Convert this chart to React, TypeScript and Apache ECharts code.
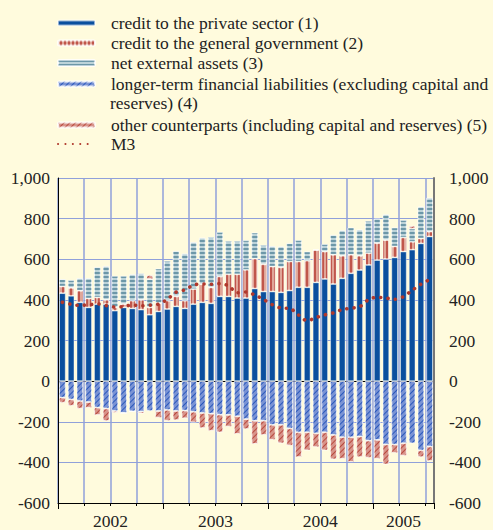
import React, { useEffect, useRef } from 'react';
import * as echarts from 'echarts';

// Monthly categories Jan 2002 – Jul 2005
const years = ['2002', '2003', '2004', '2005'];
const monthNames = ['01', '02', '03', '04', '05', '06', '07', '08', '09', '10', '11', '12'];
const categories: string[] = [];
years.forEach((y) => monthNames.forEach((m) => { if (!(y === '2005' && Number(m) > 7)) categories.push(`${y}-${m}`); }));

// index of the category carrying each year label
const yearLabelIndex: Record<number, string> = { 6: '2002', 18: '2003', 30: '2004', 39: '2005' };

const yTicks = { min: -600, max: 1000, step: 200 };

const privateSector = [433, 420, 388, 363, 379, 379, 347, 363, 358, 352, 327, 343, 355, 368, 358, 379, 388, 383, 417, 417, 409, 409, 456, 441, 441, 437, 446, 462, 462, 486, 503, 478, 506, 531, 547, 572, 596, 601, 609, 638, 647, 678, 712];
const generalGovernment = [33, 39, 57, 44, 33, 21, 16, 16, 38, 48, 36, 40, 41, 49, 38, 74, 89, 78, 98, 109, 117, 139, 147, 134, 123, 123, 143, 127, 131, 159, 135, 144, 111, 91, 70, 58, 83, 93, 54, 69, 39, 24, 24];
const netExternal = [36, 38, 62, 100, 150, 167, 155, 139, 130, 130, 139, 171, 196, 224, 232, 232, 229, 248, 219, 164, 164, 145, 128, 95, 101, 103, 90, 105, 45, 3, 36, 98, 126, 134, 129, 159, 121, 127, 93, 86, 65, 157, 167];
const longerTerm = [-81, -90, -98, -103, -130, -135, -147, -157, -149, -150, -147, -147, -142, -147, -145, -151, -157, -160, -165, -166, -173, -187, -195, -195, -215, -215, -233, -252, -252, -257, -252, -265, -276, -276, -273, -293, -289, -312, -312, -306, -306, -341, -322];
const otherCounterparts = [-25, -31, -37, -28, -37, -61, -8, 0, 0, -9, 19, -33, -53, -45, -38, -52, -74, -84, -87, -58, -87, -49, -114, -70, -74, -91, -84, -122, -89, -68, -89, -120, -106, -122, -101, -84, -93, -98, -42, -61, 13, -33, -71];
const m3 = [388, 378, 373, 376, 380, 372, 365, 367, 375, 371, 374, 379, 403, 438, 449, 473, 478, 477, 480, 469, 435, 439, 424, 402, 377, 360, 358, 326, 297, 313, 326, 336, 352, 359, 366, 401, 413, 409, 403, 416, 447, 477, 500];

const seriesNames = [
  'credit to the private sector (1)',
  'credit to the general government (2)',
  'net external assets (3)',
  'longer-term financial liabilities (excluding capital and reserves) (4)',
  'other counterparts (including capital and reserves) (5)',
  'M3',
];
const legendShown = [
  'credit to the private sector (1)',
  'credit to the general government (2)',
  'net external assets (3)',
  'longer-term financial liabilities (excluding capital and',
  'other counterparts (including capital and reserves) (5)',
  'M3',
];
const legendWrap = 'reserves) (4)';

const FONT = 'Liberation Serif';
const BG = '#fffbdd';
const GRIDC = '#90a0da';
const TXT = '#222222';
const FS = 17.5;

export default function App() {
  const ref = useRef<HTMLDivElement>(null);
  useEffect(() => {
    if (!ref.current) return;
    const chart = echarts.init(ref.current, undefined, { renderer: 'svg' });
    const border = { borderColor: 'rgba(255,255,255,0.55)', borderWidth: 0.8 };
    const legendTops = [14, 34, 54, 75, 116, 135];
    const splitColors = [GRIDC, GRIDC, GRIDC, '#000000', GRIDC, GRIDC, GRIDC, GRIDC, GRIDC];
    const fmt = (v: number) => (Math.abs(v) >= 1000 ? `${v < 0 ? '-' : ''}${Math.floor(Math.abs(v) / 1000)},${String(Math.abs(v) % 1000).padStart(3, '0')}` : String(v));

    const option: any = {
      animation: false,
      backgroundColor: BG,
      textStyle: { fontFamily: FONT },
      grid: { left: 58, right: 59, top: 178, bottom: 24 },
      legend: seriesNames.map((name, k) => ({
        data: k === 5 ? [{ name, itemStyle: { opacity: 0 } }] : [name],
        left: 57,
        top: legendTops[k],
        padding: 0,
        itemWidth: 37,
        itemHeight: k === 2 ? 6 : 5,
        selectedMode: false,
        formatter: () => `{g|}${legendShown[k]}`,
        textStyle: { fontFamily: FONT, fontSize: FS, color: TXT, rich: { g: { width: 11 } } },
      })),
      graphic: [
        { type: 'text', left: 110, top: 94, style: { text: legendWrap, fontFamily: FONT, fontSize: FS, fill: TXT } },
      ],
      xAxis: [
        {
          type: 'category',
          data: categories,
          position: 'bottom',
          boundaryGap: true,
          axisLine: { show: true, onZero: false, lineStyle: { color: '#000', width: 1 } },
          axisTick: { show: true, interval: (i: number) => i % 3 === 0, length: 3, lineStyle: { color: '#000' } },
          splitLine: { show: true, interval: (i: number) => i % 3 === 0, lineStyle: { color: GRIDC, width: 1.5 } },
          axisLabel: {
            interval: (i: number) => yearLabelIndex[i] !== undefined,
            margin: 9,
            formatter: (v: string, i: number) => (i === 39 ? `{b|${yearLabelIndex[i]}}` : `{a|${yearLabelIndex[i] ?? v.slice(0, 4)}}`),
            rich: {
              a: { fontFamily: FONT, fontSize: FS, color: TXT, padding: [0, 8.7, 0, 0] },
              b: { fontFamily: FONT, fontSize: FS, color: TXT },
            },
          },
        },
        {
          type: 'category',
          data: categories,
          position: 'bottom',
          boundaryGap: true,
          axisLine: { show: false, onZero: false },
          axisTick: { show: true, interval: (i: number) => i % 12 === 0, length: 6, lineStyle: { color: '#000' } },
          splitLine: { show: false },
          axisLabel: { show: false },
        },
      ],
      yAxis: [
        {
          type: 'value',
          position: 'left',
          min: yTicks.min,
          max: yTicks.max,
          interval: yTicks.step,
          axisLine: { show: true, lineStyle: { color: '#000', width: 1 } },
          axisTick: { show: false },
          axisLabel: { formatter: fmt, fontFamily: FONT, fontSize: FS, color: TXT, margin: 8 },
          splitLine: { show: true, lineStyle: { color: splitColors, width: 1.2 } },
        },
        {
          type: 'value',
          position: 'right',
          min: yTicks.min,
          max: yTicks.max,
          interval: yTicks.step,
          axisLine: { show: true, lineStyle: { color: '#777', width: 2 } },
          axisTick: { show: false },
          axisLabel: { formatter: fmt, fontFamily: FONT, fontSize: FS, color: TXT, margin: 15 },
          splitLine: { show: false },
        },
      ],
      series: [
        {
          name: seriesNames[0], type: 'bar', stack: 'total', data: privateSector, barCategoryGap: '25%',
          itemStyle: { color: '#0a4f9e', ...border },
        },
        {
          name: seriesNames[1], type: 'bar', stack: 'total', data: generalGovernment,
          itemStyle: {
            color: '#e0a698', ...border,
            decal: { symbol: 'rect', symbolSize: 1, color: '#c0564b', dashArrayX: [1, 0], dashArrayY: [1.2, 1.4], rotation: Math.PI / 2 },
          },
        },
        {
          name: seriesNames[2], type: 'bar', stack: 'total', data: netExternal,
          itemStyle: {
            color: '#bcd3d9', ...border,
            decal: { symbol: 'rect', symbolSize: 1, color: '#6c97a8', dashArrayX: [1, 0], dashArrayY: [1.2, 1.3], rotation: 0 },
          },
        },
        {
          name: seriesNames[3], type: 'bar', stack: 'total', data: longerTerm,
          itemStyle: {
            color: '#7a93d4', ...border,
            decal: { symbol: 'rect', symbolSize: 1, color: '#2a58bb', dashArrayX: [1, 0], dashArrayY: [1, 3], rotation: -Math.PI / 4 },
          },
        },
        {
          name: seriesNames[4], type: 'bar', stack: 'total', data: otherCounterparts,
          itemStyle: {
            color: '#d8948a', ...border,
            decal: { symbol: 'rect', symbolSize: 1, color: '#b8493e', dashArrayX: [1, 0], dashArrayY: [1, 3], rotation: -Math.PI / 4 },
          },
        },
        {
          name: seriesNames[5], type: 'line', data: m3, symbol: 'none', smooth: 0.3, z: 5,
          itemStyle: { color: '#b0382c' },
          lineStyle: { color: '#b0382c', width: 3.6, type: [0.1, 7.3], cap: 'round' },
        },
      ],
    };
    chart.setOption(option);
    return () => chart.dispose();
  }, []);
  return (
    <div style={{ position: 'fixed', left: 0, top: 0, width: 493, height: 530, background: BG }}>
      <div ref={ref} style={{ width: 493, height: 530 }} />
    </div>
  );
}
